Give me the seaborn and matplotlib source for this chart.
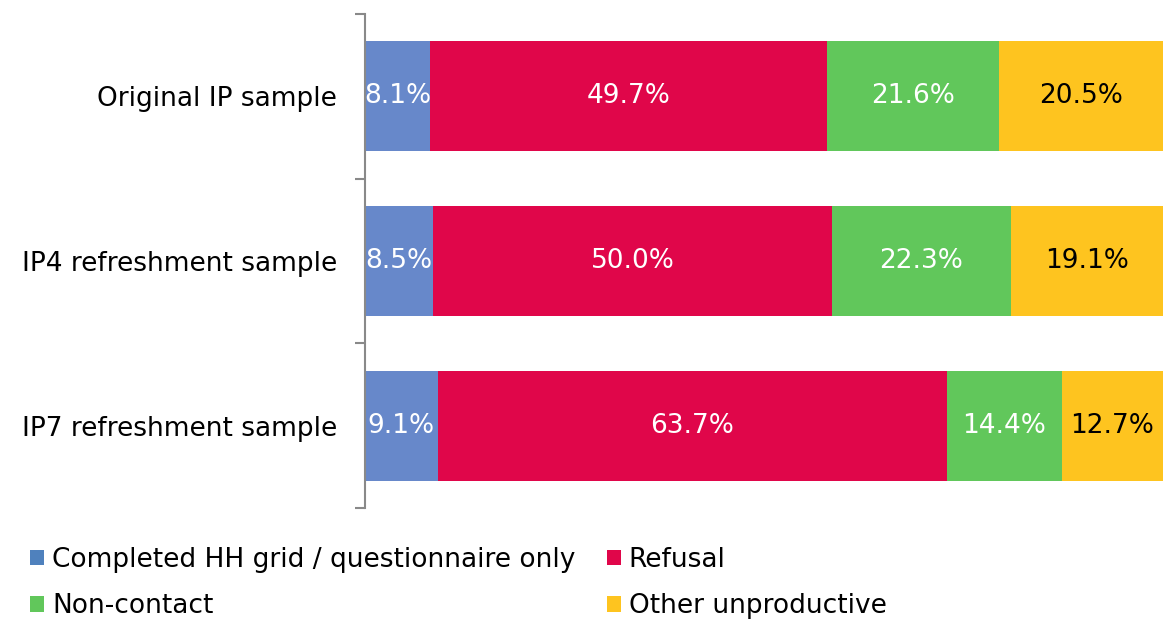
import numpy as np
import pandas as pd
import matplotlib
matplotlib.use("Agg")
from matplotlib import pyplot as plt
from matplotlib.patches import Patch
import seaborn as sns

samples = ["Original IP sample", "IP4 refreshment sample", "IP7 refreshment sample"]
outcomes = ["Completed HH grid / questionnaire only", "Refusal", "Non-contact", "Other unproductive"]
completed = [8.1, 8.5, 9.1]
refusal = [49.7, 50.0, 63.7]
noncontact = [21.6, 22.3, 14.4]
other = [20.5, 19.1, 12.7]

colors = ["#6788CA", "#E0064A", "#61C75B", "#FEC41F"]
legend_colors = ["#4F81BD", "#E0064A", "#61C75B", "#FEC41F"]
text_colors = ["white", "white", "white", "black"]

vals = np.array([completed, refusal, noncontact, other])
cum = np.cumsum(vals, axis=0)

sns.set_style("white")
plt.rcParams["font.family"] = ["DejaVu Sans"]
plt.rcParams["text.color"] = "black"
plt.rcParams["ytick.labelcolor"] = "black"
fs = 19

fig = plt.figure(figsize=(11.64, 6.2), dpi=100)
ax = fig.add_axes([365 / 1164, 1 - 508 / 620, 1 - 365 / 1164, (508 - 14) / 620])

# stacked bars: draw cumulative totals from the outside in
for i in range(len(outcomes) - 1, -1, -1):
    df = pd.DataFrame({"sample": samples, "value": cum[i]})
    sns.barplot(data=df, x="value", y="sample", order=samples, color=colors[i],
                orient="h", width=0.67, linewidth=0, saturation=1, ax=ax)

for i in range(len(outcomes)):
    for j in range(len(samples)):
        ax.text(cum[i, j] - vals[i, j] / 2, j, f"{vals[i, j]:.1f}%", ha="center", va="center",
                color=text_colors[i], fontsize=fs)

ax.set_xlim(0, 100)
ax.set_ylim(len(samples) - 0.5, -0.5)
ax.set_xlabel("")
ax.set_ylabel("")
ax.set_xticks([])
ax.set_yticks(range(len(samples)))
ax.set_yticklabels(samples, fontsize=fs)
ax.set_yticks(np.arange(-0.5, len(samples), 1), minor=True)
ax.tick_params(axis="y", which="major", length=0, pad=20)
ax.tick_params(axis="y", which="minor", length=7, width=1.5, color="#898989", left=True)
for s in ["top", "right", "bottom"]:
    ax.spines[s].set_visible(False)
ax.spines["left"].set_color("#898989")
ax.spines["left"].set_linewidth(1.5)

# legend fills column-wise, so reorder to read row-wise
order = [0, 2, 1, 3]
handles = [Patch(facecolor=legend_colors[k], edgecolor="none") for k in order]
labels = [outcomes[k] for k in order]
fig.legend(handles, labels, ncol=2, loc="upper left", bbox_to_anchor=(30 / 1164, 1 - 547 / 620),
           frameon=False, fontsize=fs, handlelength=0.53, handleheight=0.53, handletextpad=0.3,
           columnspacing=1.2, labelspacing=0.77, borderaxespad=0, borderpad=0)

fig.savefig("out.png", dpi=100)
